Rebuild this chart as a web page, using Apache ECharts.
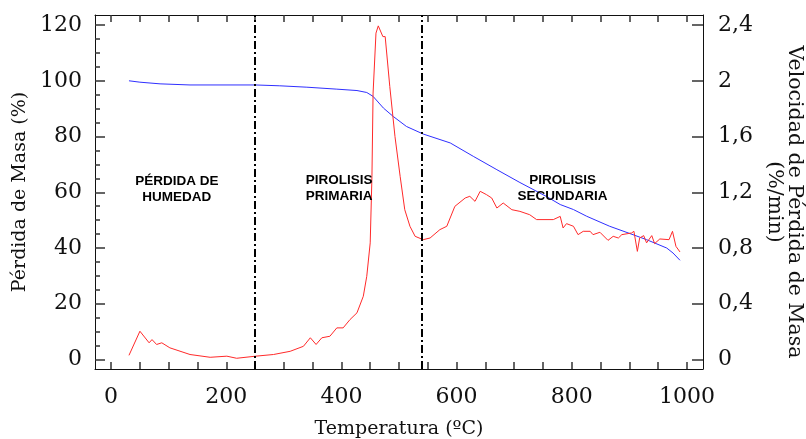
<!DOCTYPE html>
<html>
<head>
<meta charset="utf-8">
<script src="https://cdn.jsdelivr.net/npm/echarts@6/dist/echarts.min.js"></script>
<style>
html,body{margin:0;padding:0;background:#fff;}
#chart{width:806px;height:439px;}
</style>
</head>
<body>
<div id="chart"></div>
<script>
// Temperature (ºC) and mass (%) for the blue TG curve
var massTemp = [31, 50, 85, 137, 251, 293, 340, 392, 427, 444, 455, 473, 490, 513, 542, 589, 629, 670, 710, 756, 780, 803, 826, 866, 901, 930, 965, 976, 988];
var massVal  = [100.0, 99.5, 98.9, 98.5, 98.5, 98.2, 97.7, 97.0, 96.5, 95.8, 94.4, 90.2, 87.2, 83.6, 80.9, 77.7, 72.9, 68.1, 63.5, 58.5, 55.6, 53.8, 51.4, 47.8, 45.2, 43.0, 40.0, 38.2, 35.6];

// Temperature (ºC) and rate of mass loss (%/min) for the red DTG curve
var rateTemp = [31, 50, 66, 71, 79, 88, 102, 137, 172, 201, 218, 251, 282, 311, 334, 346, 356, 366, 380, 392, 403, 415, 427, 438, 444, 450, 453, 455, 460, 464, 472, 476, 484, 493, 502, 510, 519, 528, 542, 554, 571, 583, 597, 615, 623, 632, 641, 652, 661, 670, 681, 696, 710, 727, 739, 768, 780, 785, 791, 803, 811, 820, 832, 837, 849, 863, 872, 881, 887, 904, 908, 914, 918, 925, 930, 939, 944, 953, 969, 975, 981, 988];
var rateVal  = [0.03, 0.203, 0.12, 0.143, 0.108, 0.12, 0.084, 0.036, 0.016, 0.024, 0.009, 0.024, 0.036, 0.059, 0.095, 0.156, 0.108, 0.156, 0.167, 0.227, 0.227, 0.287, 0.335, 0.454, 0.597, 0.837, 1.314, 1.912, 2.342, 2.394, 2.317, 2.317, 1.959, 1.60, 1.314, 1.075, 0.956, 0.884, 0.86, 0.872, 0.932, 0.956, 1.099, 1.159, 1.171, 1.135, 1.207, 1.183, 1.159, 1.087, 1.123, 1.075, 1.063, 1.039, 1.004, 1.004, 1.027, 0.944, 0.975, 0.956, 0.896, 0.92, 0.92, 0.896, 0.913, 0.855, 0.884, 0.872, 0.896, 0.908, 0.92, 0.776, 0.872, 0.889, 0.837, 0.889, 0.832, 0.865, 0.86, 0.92, 0.812, 0.772];

// Stage boundaries (ºC)
var stageBounds = [250, 540];

// Stage annotations: temperature, mass-axis value, text
var stageTemp  = [114, 396, 784];
var stageLevel = [61, 61.5, 61.5];
var stageText  = ['PÉRDIDA DE\nHUMEDAD', 'PIROLISIS\nPRIMARIA', 'PIROLISIS\nSECUNDARIA'];

// Tick values
var xTickVals   = [0, 50, 100, 150, 200, 250, 300, 350, 400, 450, 500, 550, 600, 650, 700, 750, 800, 850, 900, 950, 1000];
var xLabelVals  = [0, 200, 400, 600, 800, 1000];
var yLeftLabels = [0, 20, 40, 60, 80, 100, 120];
var yLeftMinor  = [5, 10, 15, 25, 30, 35, 45, 50, 55, 65, 70, 75, 85, 90, 95, 105, 110, 115];
var yRightLabels = [0, 0.4, 0.8, 1.2, 1.6, 2.0, 2.4];

var SERIF = '"DejaVu Serif", "Liberation Serif", serif';
var INK = '#111';
var TICK = '#333';
var TW = 1.5;

function zip(a, b) { return a.map(function (v, i) { return [v, b[i]]; }); }

var chart = echarts.init(document.getElementById('chart'), null, { renderer: 'canvas' });

var X_MIN = -28, X_MAX = 1028;
var YL_MIN = -3.4, YL_MAX = 123.6;
var gridRect = { left: 95, right: 103, top: 15, bottom: 70, containLabel: false, outerBoundsMode: 'none' };
var topStrip = { left: 95, right: 103, top: 0, height: 15, containLabel: false, outerBoundsMode: 'none' };

function hiddenAxis(gi, mn, mx) {
  return { gridIndex: gi, type: 'value', min: mn, max: mx, show: false };
}

chart.setOption({
  animation: false,
  backgroundColor: '#fff',
  grid: [
    Object.assign({}, gridRect),
    Object.assign({}, gridRect),
    Object.assign({}, topStrip)
  ],
  xAxis: [
    {
      gridIndex: 0, type: 'value', position: 'bottom', min: X_MIN, max: X_MAX,
      axisLine: { show: true, onZero: false, lineStyle: { color: INK, width: 1 } },
      axisTick: { show: true, inside: true, length: 7, customValues: xTickVals, lineStyle: { color: TICK, width: TW } },
      axisLabel: { show: true, customValues: xLabelVals, margin: 17, fontFamily: SERIF, fontSize: 22, color: INK,
        formatter: function (v) { return String(v); } },
      splitLine: { show: false },
      name: 'Temperatura (ºC)', nameLocation: 'middle', nameGap: 51,
      nameTextStyle: { fontFamily: SERIF, fontSize: 19, color: INK }
    },
    hiddenAxis(1, X_MIN, X_MAX),
    {
      gridIndex: 2, type: 'value', position: 'bottom', min: X_MIN, max: X_MAX,
      axisLine: { show: true, onZero: false, lineStyle: { color: INK, width: 1 } },
      axisTick: { show: true, inside: false, length: 7, customValues: xTickVals, lineStyle: { color: TICK, width: TW } },
      axisLabel: { show: false },
      splitLine: { show: false }
    }
  ],
  yAxis: [
    {
      gridIndex: 0, type: 'value', position: 'left', min: YL_MIN, max: YL_MAX,
      axisLine: { show: true, onZero: false, lineStyle: { color: INK, width: 1 } },
      axisTick: { show: true, inside: true, length: 10, customValues: yLeftLabels, lineStyle: { color: TICK, width: TW } },
      axisLabel: { show: true, customValues: yLeftLabels, margin: 13, fontFamily: SERIF, fontSize: 22, color: INK },
      splitLine: { show: false },
      name: 'Pérdida de Masa (%)', nameLocation: 'middle', nameGap: 58,
      nameTextStyle: { fontFamily: SERIF, fontSize: 19, color: INK }
    },
    {
      gridIndex: 1, type: 'value', position: 'left', min: YL_MIN, max: YL_MAX,
      axisLine: { show: false, onZero: false },
      axisTick: { show: true, inside: true, length: 5, customValues: yLeftMinor, lineStyle: { color: TICK, width: TW } },
      axisLabel: { show: false },
      splitLine: { show: false }
    },
    {
      gridIndex: 0, type: 'value', position: 'right', min: YL_MIN / 50, max: YL_MAX / 50,
      axisLine: { show: true, onZero: false, lineStyle: { color: INK, width: 1 } },
      axisTick: { show: true, inside: true, length: 11, customValues: yRightLabels, lineStyle: { color: TICK, width: TW } },
      axisLabel: {
        show: true, customValues: yRightLabels, margin: 15, fontFamily: SERIF, fontSize: 22, color: INK,
        formatter: function (v) { return String(Math.round(v * 10) / 10).replace('.', ','); }
      },
      splitLine: { show: false },
      name: 'Velocidad de Pérdida de Masa\n(%/min)', nameLocation: 'middle', nameGap: 55, nameRotate: -90,
      nameTextStyle: { fontFamily: SERIF, fontSize: 20.5, lineHeight: 20, color: INK, align: 'center',
        padding: [0, 0, 0, 20] }
    },
    hiddenAxis(2, 0, 1)
  ],
  series: [
    {
      name: 'Pérdida de Masa', type: 'line', xAxisIndex: 0, yAxisIndex: 0,
      data: zip(massTemp, massVal), showSymbol: false, smooth: false,
      lineStyle: { color: '#2f2fff', width: 1 }, itemStyle: { color: '#2f2fff' }, z: 3
    },
    {
      name: 'Velocidad de Pérdida de Masa', type: 'line', xAxisIndex: 0, yAxisIndex: 2,
      data: zip(rateTemp, rateVal), showSymbol: false, smooth: false,
      lineStyle: { color: '#ff2a2a', width: 1 }, itemStyle: { color: '#ff2a2a' }, z: 3,
      markLine: {
        silent: true, symbol: ['none', 'none'], label: { show: false },
        lineStyle: { color: '#000', width: 2, type: [8, 3, 2, 3] },
        data: stageBounds.map(function (t) { return { xAxis: t }; })
      }
    },
    {
      name: 'Etapas', type: 'scatter', xAxisIndex: 0, yAxisIndex: 0, silent: true,
      symbolSize: 0, z: 5, itemStyle: { opacity: 1 },
      data: stageTemp.map(function (t, i) { return [t, stageLevel[i], stageText[i]]; }),
      label: {
        show: true, position: 'inside', formatter: function (p) { return p.value[2]; },
        fontFamily: '"Liberation Sans", Arial, sans-serif', fontWeight: 'bold', fontSize: 13.5,
        lineHeight: 16, color: '#000', align: 'center', opacity: 1
      }
    }
  ]
});
</script>
</body>
</html>
